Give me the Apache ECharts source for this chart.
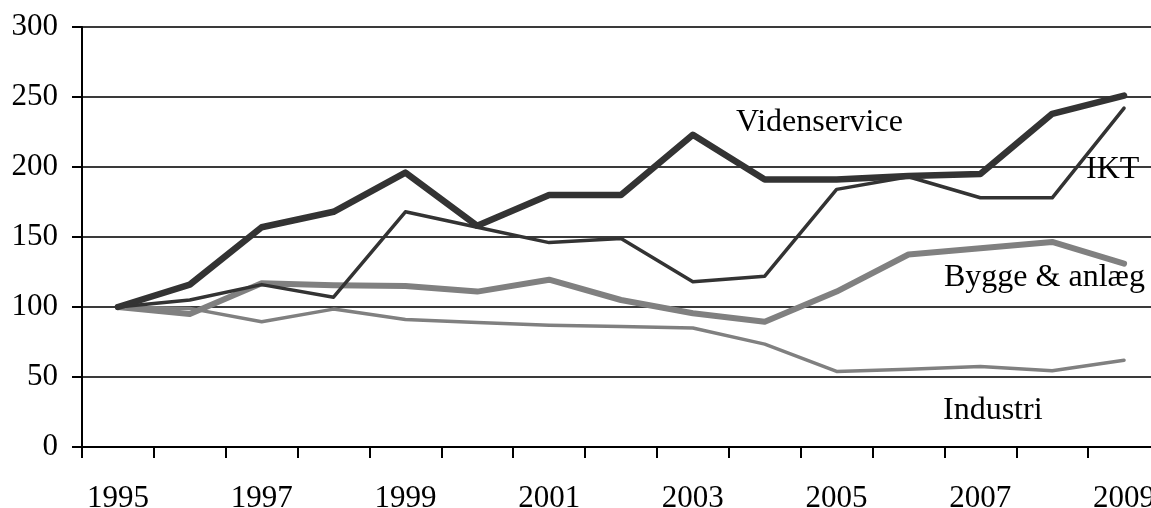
<!DOCTYPE html>
<html>
<head>
<meta charset="utf-8">
<script src="https://cdn.jsdelivr.net/npm/echarts@6/dist/echarts.min.js"></script>
<style>
html,body{margin:0;padding:0;background:#fff;}
#chart{width:1151px;height:508px;}
</style>
</head>
<body>
<div id="chart"></div>
<script>
const years = ['1995','1996','1997','1998','1999','2000','2001','2002','2003','2004','2005','2006','2007','2008','2009'];
const videnservice = [100, 116, 157, 168, 196, 158, 180, 180, 223, 191, 191, 193.5, 195, 238, 251];
const ikt = [100, 105, 116, 107, 168, 157, 146, 149, 118, 122, 184, 193, 178, 178, 242];
const bygge = [100, 95, 117, 115.5, 115, 111, 119.5, 105, 95.5, 89.5, 111, 137.5, 142, 146.5, 131];
const industri = [100, 99, 89.5, 98.5, 91, 89, 87, 86, 85, 73.5, 54, 55.5, 57.5, 54.5, 62];
const yTicks = {min: 0, max: 300, interval: 50};
const seriesNames = ['Videnservice', 'IKT', 'Bygge & anlæg', 'Industri'];

const FONT = '"Liberation Serif", "Times New Roman", serif';
const FS = 31;
const LFS = 32;
const chart = echarts.init(document.getElementById('chart'), null, {renderer: 'canvas'});

function mk(name, data, color, width, z) {
  return {
    name: name, type: 'line', data: data, symbol: 'none', z: z,
    lineStyle: {color: color, width: width, cap: 'round', join: 'round'},
    emphasis: {disabled: true}
  };
}

chart.setOption({
  animation: false,
  backgroundColor: '#fff',
  grid: {left: 82, top: 27, width: 1078, height: 420, containLabel: false, outerBoundsMode: 'none'},
  xAxis: {
    type: 'category', data: years, boundaryGap: true,
    axisLine: {lineStyle: {color: '#000', width: 2}},
    axisTick: {show: true, interval: 0, length: 11, lineStyle: {color: '#000', width: 2}},
    axisLabel: {interval: 1, margin: 36, color: '#000', fontFamily: FONT, fontSize: FS, hideOverlap: false},
    splitLine: {show: false}
  },
  yAxis: {
    type: 'value', min: yTicks.min, max: yTicks.max, interval: yTicks.interval,
    axisLine: {show: true, lineStyle: {color: '#000', width: 2}},
    axisTick: {show: true, length: 10, lineStyle: {color: '#000', width: 2}},
    axisLabel: {margin: 24, color: '#000', fontFamily: FONT, fontSize: FS},
    splitLine: {show: true, lineStyle: {color: '#3a3a3a', width: 2}}
  },
  series: [
    mk(seriesNames[3], industri, '#808080', 3.5, 2),
    mk(seriesNames[2], bygge, '#808080', 6, 3),
    mk(seriesNames[1], ikt, '#333333', 3.5, 4),
    mk(seriesNames[0], videnservice, '#333333', 6.5, 5)
  ],
  graphic: [
    {type: 'text', left: 736, top: 107, z: 10, style: {text: seriesNames[0], font: LFS + 'px ' + FONT, fill: '#000'}},
    {type: 'text', left: 1086, top: 154, z: 10, style: {text: seriesNames[1], font: LFS + 'px ' + FONT, fill: '#000'}},
    {type: 'text', left: 944, top: 262, z: 10, style: {text: seriesNames[2], font: LFS + 'px ' + FONT, fill: '#000'}},
    {type: 'text', left: 943, top: 395, z: 10, style: {text: seriesNames[3], font: LFS + 'px ' + FONT, fill: '#000'}}
  ]
});
</script>
</body>
</html>
